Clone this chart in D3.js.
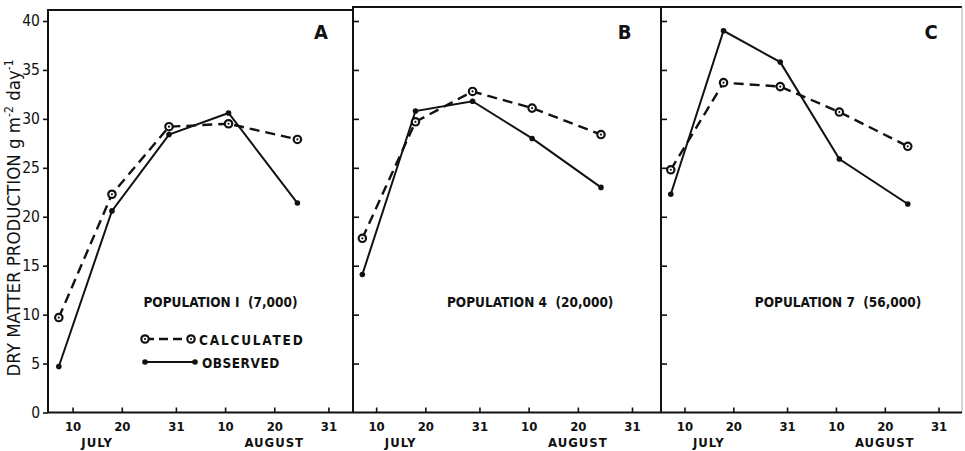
<!DOCTYPE html>
<html>
<head>
<meta charset="utf-8">
<script src="https://d3js.org/d3.v7.min.js"></script>
<style>
body { margin: 0; background: #fff; }
svg text { font-family: "DejaVu Sans Condensed", "DejaVu Sans", sans-serif; fill: #111; }
</style>
</head>
<body>
<svg id="chart" width="965" height="451"></svg>
<script>
// data ---------------------------------------------------------------
var days = [7.2, 18, 29.6, 41.7, 55.7]; // sampling dates, day counted from 1 July
var tickDays = [10, 20, 31, 41, 51, 62];
var tickLabels = ["10", "20", "31", "10", "20", "31"];
var monthDays = [15, 51];
var monthLabels = ["JULY", "AUGUST"];
var yTicks = [0, 5, 10, 15, 20, 25, 30, 35, 40];
var panelNames = ["A", "B", "C"];
var popLabels = ["POPULATION I  (7,000)", "POPULATION 4  (20,000)", "POPULATION 7  (56,000)"];

var calcA = [9.7, 22.3, 29.2, 29.5, 27.9];
var obsA = [4.7, 20.6, 28.4, 30.6, 21.4];
var calcB = [17.8, 29.7, 32.8, 31.1, 28.4];
var obsB = [14.1, 30.8, 31.8, 28.0, 23.0];
var calcC = [24.8, 33.7, 33.3, 30.7, 27.2];
var obsC = [22.3, 39.0, 35.8, 25.9, 21.3];

// layout -------------------------------------------------------------
var svg = d3.select("#chart");
var panels = [
	{ x0: 48, x1: 353, top: 10, dom: [5, 67], calc: calcA, obs: obsA },
	{ x0: 353, x1: 661, top: 7, dom: [5.3, 67.9], calc: calcB, obs: obsB },
	{ x0: 661, x1: 962, top: 7, dom: [5.2, 66.8], calc: calcC, obs: obsC }
];
var y = d3.scaleLinear().domain([0, 40]).range([412.5, 21]);

function calcMarker(sel, cx, cy) {
	sel.append("circle").attr("cx", cx).attr("cy", cy).attr("r", 3.7)
		.attr("fill", "#fff").attr("stroke", "#111").attr("stroke-width", 2.2);
	sel.append("circle").attr("cx", cx).attr("cy", cy).attr("r", 1.1).attr("fill", "#111");
}
function obsMarker(sel, cx, cy) {
	sel.append("circle").attr("cx", cx).attr("cy", cy).attr("r", 2.8).attr("fill", "#111");
}

panels.forEach(function (p, k) {
	var x = d3.scaleLinear().domain(p.dom).range([p.x0, p.x1]);
	var g = svg.append("g");

	// frame: top, left, right (last panel's right edge is faint in the print)
	g.append("path")
		.attr("d", `M${p.x0},${y(0)}V${p.top}H${p.x1}`)
		.attr("fill", "none").attr("stroke", "#111").attr("stroke-width", 2);
	g.append("line")
		.attr("x1", p.x1).attr("x2", p.x1).attr("y1", p.top).attr("y2", y(0))
		.attr("stroke", k == 2 ? "#aaa" : "#111").attr("stroke-width", k == 2 ? 1 : 2);
	g.append("line")
		.attr("x1", p.x0).attr("x2", p.x1).attr("y1", y(0)).attr("y2", y(0))
		.attr("stroke", "#111").attr("stroke-width", 2);

	// x axis
	var xa = g.append("g").attr("transform", `translate(0,${y(0)})`)
		.call(d3.axisBottom(x).tickValues(tickDays)
			.tickFormat((d, i) => tickLabels[i])
			.tickSizeInner(-5).tickSizeOuter(0).tickPadding(9));
	xa.select(".domain").remove();
	xa.selectAll("line").attr("stroke", "#111").attr("stroke-width", 1.6);
	xa.selectAll("text").attr("font-size", 13).attr("font-weight", "bold").attr("fill", "#111");

	g.selectAll(".month")
		.data(monthLabels)
		.enter()
		.append("text")
		.attr("x", (d, i) => x(monthDays[i]))
		.attr("y", 447)
		.attr("text-anchor", "middle")
		.attr("font-size", 13)
		.attr("font-weight", "bold")
		.attr("letter-spacing", 1)
		.text(d => d);

	// y axis
	var ya;
	if (k == 0) {
		ya = g.append("g").attr("transform", `translate(${p.x0},0)`)
			.call(d3.axisLeft(y).tickValues(yTicks).tickSize(5).tickPadding(3));
		ya.selectAll("text").attr("font-size", 15.5).attr("fill", "#111");
	} else {
		ya = g.append("g").attr("transform", `translate(${p.x0 - 1},0)`)
			.call(d3.axisRight(y).tickValues(yTicks.slice(1)).tickSize(7).tickFormat(""));
	}
	ya.select(".domain").remove();
	ya.selectAll("line").attr("stroke", "#111").attr("stroke-width", 1.6);

	// lines
	var line = d3.line().x((d, i) => x(days[i])).y(d => y(d));
	g.append("path").datum(p.calc).attr("d", line)
		.attr("fill", "none").attr("stroke", "#111").attr("stroke-width", 2.4)
		.attr("stroke-dasharray", "10,6");
	g.append("path").datum(p.obs).attr("d", line)
		.attr("fill", "none").attr("stroke", "#111").attr("stroke-width", 2);

	p.calc.forEach((d, i) => calcMarker(g, x(days[i]), y(d)));
	p.obs.forEach((d, i) => obsMarker(g, x(days[i]), y(d)));

	// panel letter
	g.append("text")
		.attr("x", x(60.5)).attr("y", 39)
		.attr("text-anchor", "middle")
		.attr("font-size", 20).attr("font-weight", "bold")
		.text(panelNames[k]);

	// population label
	g.append("text")
		.attr("x", x(24.4)).attr("y", 307)
		.attr("font-size", 13.5).attr("font-weight", "bold")
		.attr("xml:space", "preserve")
		.text(popLabels[k]);
});

// legend (panel A) ----------------------------------------------------
var lg = svg.append("g");
lg.append("line").attr("x1", 145).attr("x2", 191).attr("y1", 339).attr("y2", 339)
	.attr("stroke", "#111").attr("stroke-width", 2.4).attr("stroke-dasharray", "9,5");
calcMarker(lg, 145, 339);
calcMarker(lg, 191, 339);
lg.append("text").attr("x", 199).attr("y", 344.5)
	.attr("font-size", 13.5).attr("font-weight", "bold").attr("letter-spacing", 1.8)
	.text("CALCULATED");
lg.append("line").attr("x1", 145).attr("x2", 195).attr("y1", 362).attr("y2", 362)
	.attr("stroke", "#111").attr("stroke-width", 2);
obsMarker(lg, 145, 362);
obsMarker(lg, 195, 362);
lg.append("text").attr("x", 202).attr("y", 367.5)
	.attr("font-size", 13.5).attr("font-weight", "bold").attr("letter-spacing", 0.5)
	.text("OBSERVED");

// y title --------------------------------------------------------------
var yt = svg.append("text")
	.attr("transform", "translate(20,218) rotate(-90)")
	.attr("text-anchor", "middle")
	.attr("font-size", 18.5);
yt.append("tspan").text("DRY MATTER PRODUCTION  g m");
yt.append("tspan").attr("dy", -7).attr("font-size", 12).text("-2");
yt.append("tspan").attr("dy", 7).text(" day");
yt.append("tspan").attr("dy", -7).attr("font-size", 12).text("-1");
</script>
</body>
</html>
